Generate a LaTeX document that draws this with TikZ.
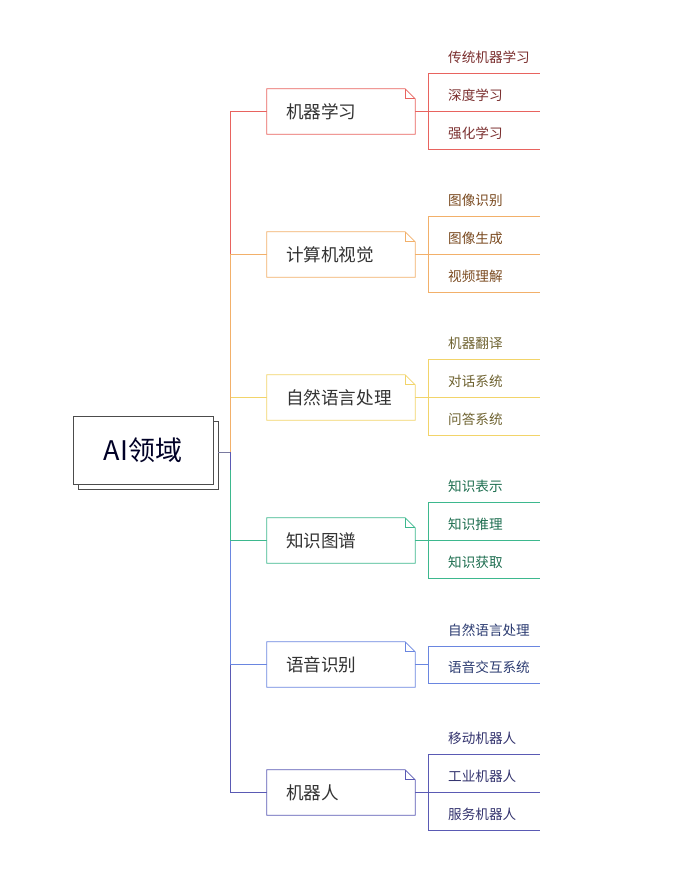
\documentclass[tikz,border=0pt]{standalone}
\usepackage{fontspec}
\setmainfont{Noto Sans CJK SC}
\begin{document}
\begin{tikzpicture}[x=1pt,y=-1pt,
  conn/.style={line width=0.8pt},
  rootbox/.style={draw=black!70,fill=white,line width=0.8pt,minimum width=140pt,minimum height=68pt,inner sep=0pt,font=\fontsize{27}{30}\selectfont,text=black!85!blue},
  branchbox/.style={minimum width=148pt,minimum height=45pt,inner xsep=19pt,inner ysep=0pt,text width=110pt,align=left,font=\fontsize{17.6}{20}\selectfont,text=black!80},
  leaf/.style={anchor=west,inner sep=0pt,font=\fontsize{13.6}{16}\selectfont}]
\definecolor{cA}{HTML}{E8635F}\definecolor{tA}{HTML}{7A2E2E}
\definecolor{cB}{HTML}{F2B06A}\definecolor{tB}{HTML}{7A4A20}
\definecolor{cC}{HTML}{F2D46A}\definecolor{tC}{HTML}{6E6230}
\definecolor{cD}{HTML}{3DB88E}\definecolor{tD}{HTML}{1E6E50}
\definecolor{cE}{HTML}{6A86E0}\definecolor{tE}{HTML}{2A3A70}
\definecolor{cF}{HTML}{5A5AB4}\definecolor{tF}{HTML}{33336E}
\definecolor{cJ}{HTML}{7A7AA0}
\useasboundingbox (0,0) rectangle (679,892);
% root
\node[rootbox] (shadow) at (148,455) {};
\node[rootbox] (root) at (143,450) {AI领域};
\coordinate (join) at (230,452);
% branch boxes
\newcommand{\notebox}[4]{%
  \node[branchbox] (#1) at (341,#2) {};
  \draw[#4,conn,fill=white] (#1.north west) -- ([xshift=-10pt]#1.north east) -- ([yshift=-10pt]#1.north east) -- (#1.south east) -- (#1.south west) -- cycle;
  \draw[#4,conn] ([xshift=-10pt]#1.north east) -- ([xshift=-10pt,yshift=-10pt]#1.north east) -- ([yshift=-10pt]#1.north east);
  \node[branchbox] (#1t) at (#1.center) {#3};}
% trunk connectors
\draw[cF,conn] (join) |- (268,792);
\draw[cE,conn] (join) |- (268,664);
\draw[cD,conn] (join) |- (268,540);
\draw[cC,conn] (join) |- (268,397);
\draw[cA,conn] (join) |- (268,111.5);
\draw[cB,conn] (join) |- (268,254);
\draw[cF,conn] (join) -- (230,470);
\draw[cJ,conn] (shadow.east |- join) -- (join);
\notebox{bA}{111.5}{机器学习}{cA}
\notebox{bB}{254.5}{计算机视觉}{cB}
\notebox{bC}{397.5}{自然语言处理}{cC}
\notebox{bD}{540.5}{知识图谱}{cD}
\notebox{bE}{664.5}{语音识别}{cE}
\notebox{bF}{792.5}{机器人}{cF}
% group A
\coordinate (vA1) at (428,73); \coordinate (vA2) at (428,149);
\draw[cA,conn] (bA.east) -- (vA1 |- bA.east);
\draw[cA,conn] (vA1) -- (vA2);
\foreach \y/\t [count=\i] in {73/传统机器学习,111/深度学习,149/强化学习}{
  \node[leaf,text=tA] (lA\i) at (448,\y-15.5) {\t};
  \draw[cA,conn] (428,\y) -- (540,\y);}
% group B
\coordinate (vB1) at (428,216); \coordinate (vB2) at (428,292);
\draw[cB,conn] (bB.east) -- (vB1 |- bB.east);
\draw[cB,conn] (vB1) -- (vB2);
\foreach \y/\t [count=\i] in {216/图像识别,254/图像生成,292/视频理解}{
  \node[leaf,text=tB] (lB\i) at (448,\y-15.5) {\t};
  \draw[cB,conn] (428,\y) -- (540,\y);}
% group C
\coordinate (vC1) at (428,359); \coordinate (vC2) at (428,435);
\draw[cC,conn] (bC.east) -- (vC1 |- bC.east);
\draw[cC,conn] (vC1) -- (vC2);
\foreach \y/\t [count=\i] in {359/机器翻译,397/对话系统,435/问答系统}{
  \node[leaf,text=tC] (lC\i) at (448,\y-15.5) {\t};
  \draw[cC,conn] (428,\y) -- (540,\y);}
% group D
\coordinate (vD1) at (428,502); \coordinate (vD2) at (428,578);
\draw[cD,conn] (bD.east) -- (vD1 |- bD.east);
\draw[cD,conn] (vD1) -- (vD2);
\foreach \y/\t [count=\i] in {502/知识表示,540/知识推理,578/知识获取}{
  \node[leaf,text=tD] (lD\i) at (448,\y-15.5) {\t};
  \draw[cD,conn] (428,\y) -- (540,\y);}
% group E
\coordinate (vE1) at (428,646); \coordinate (vE2) at (428,683);
\draw[cE,conn] (bE.east) -- (vE1 |- bE.east);
\draw[cE,conn] (vE1) -- (vE2);
\foreach \y/\t [count=\i] in {646/自然语言处理,683/语音交互系统}{
  \node[leaf,text=tE] (lE\i) at (448,\y-15.5) {\t};
  \draw[cE,conn] (428,\y) -- (540,\y);}
% group F
\coordinate (vF1) at (428,754); \coordinate (vF2) at (428,830);
\draw[cF,conn] (bF.east) -- (vF1 |- bF.east);
\draw[cF,conn] (vF1) -- (vF2);
\foreach \y/\t [count=\i] in {754/移动机器人,792/工业机器人,830/服务机器人}{
  \node[leaf,text=tF] (lF\i) at (448,\y-15.5) {\t};
  \draw[cF,conn] (428,\y) -- (540,\y);}
\end{tikzpicture}
\end{document}
